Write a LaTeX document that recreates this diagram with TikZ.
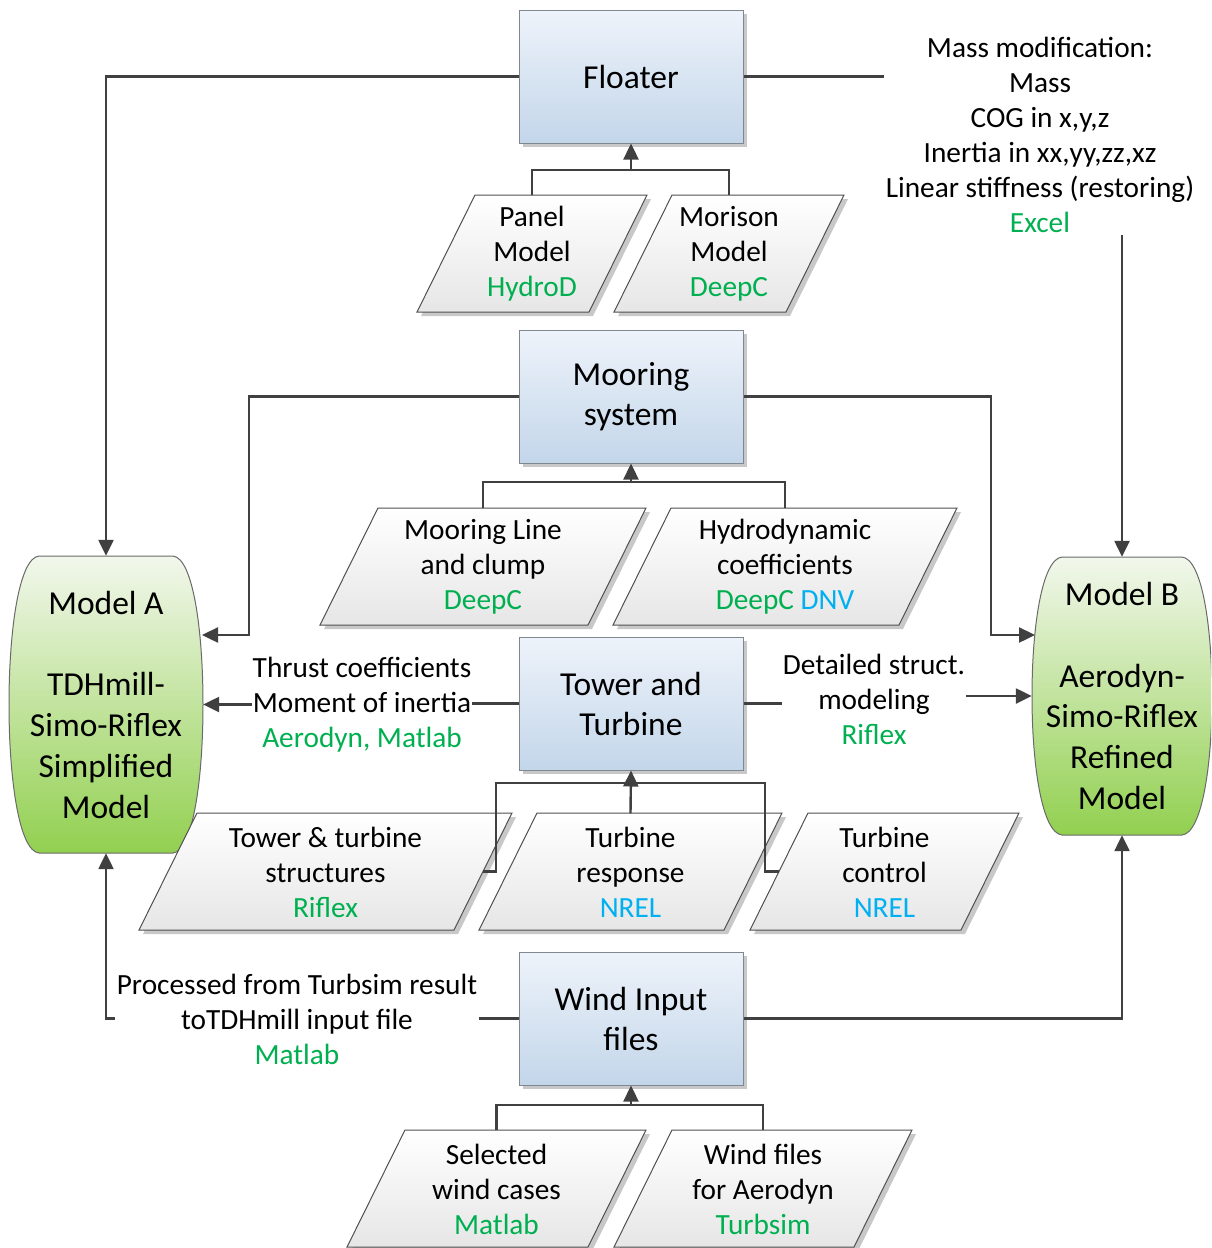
\documentclass[tikz,border=0pt]{standalone}
\usepackage{fontspec}
\setmainfont{Carlito}
\usetikzlibrary{arrows.meta,calc}
\definecolor{lineC}{HTML}{404040}
\definecolor{grn}{HTML}{00B050}
\definecolor{blu}{HTML}{00B0F0}
\definecolor{shadowC}{HTML}{C8C8C8}
\definecolor{boxTop}{HTML}{EEF3FA}
\definecolor{boxBot}{HTML}{C3D6EA}
\definecolor{boxBorder}{HTML}{7F8790}
\definecolor{paraBot}{HTML}{E6E6E6}
\definecolor{paraBorder}{HTML}{505050}
\definecolor{modTop}{HTML}{F2F7EC}
\definecolor{modBot}{HTML}{92D050}
\definecolor{modBorder}{HTML}{6A6A6A}
\tikzset{
  txt/.style={align=center, font=\fontsize{29.3}{35}\selectfont, inner sep=0pt, text=black},
  titletxt/.style={align=center, font=\fontsize{33.5}{40}\selectfont, text=black},
  modeltxt/.style={align=center, font=\fontsize{33.5}{40.8}\selectfont, text=black},
  conn/.style={draw=lineC, line width=2.4pt},
  arr/.style={conn, -{Triangle[length=16pt,width=15pt]}},
  procbox/.style={titletxt, draw=boxBorder, line width=1pt, top color=boxTop, bottom color=boxBot,
     minimum width=224, minimum height=133, inner sep=0pt},
}
\newcommand{\mybox}[4]{% name, cx, cy, text
  \fill[shadowC] ({#2-112+4},{#3-66.5+4}) rectangle ({#2+112+4},{#3+66.5+4});
  \node[procbox] (#1) at (#2,#3) {#4};
}
\newcommand{\mypara}[5]{% name, cx, cy, w, text
  \fill[shadowC] ({#2-#4/2+4},{#3+58.5+4}) -- ({#2-#4/2+58+4},{#3-58.5+4}) -- ({#2+#4/2+4},{#3-58.5+4}) -- ({#2+#4/2-58+4},{#3+58.5+4}) -- cycle;
  \path[draw=paraBorder, line width=1pt, top color=white, bottom color=paraBot] ({#2-#4/2},{#3+58.5}) -- ({#2-#4/2+58},{#3-58.5}) -- ({#2+#4/2},{#3-58.5}) -- ({#2+#4/2-58},{#3+58.5}) -- cycle;
  \node[txt, minimum width=#4, minimum height=117] (#1) at (#2,{#3+0.5}) {#5};
  \coordinate (#1-r) at ({#2+#4/2-29},#3);
  \coordinate (#1-l) at ({#2-#4/2+29},#3);
}
\newcommand{\mymodel}[6]{% name, cx, cy, w, h, text
  \path[draw=modBorder, line width=1pt, top color=modTop, bottom color=modBot]
    ({#2-#4/2+30},{#3-#5/2}) -- ({#2+#4/2-30},{#3-#5/2})
    .. controls ({#2+#4/2-10},{#3-#5/2+2}) and ({#2+#4/2},{#3-#5/4}) .. ({#2+#4/2},#3)
    .. controls ({#2+#4/2},{#3+#5/4}) and ({#2+#4/2-10},{#3+#5/2-2}) .. ({#2+#4/2-30},{#3+#5/2})
    -- ({#2-#4/2+30},{#3+#5/2})
    .. controls ({#2-#4/2+10},{#3+#5/2-2}) and ({#2-#4/2},{#3+#5/4}) .. ({#2-#4/2},#3)
    .. controls ({#2-#4/2},{#3-#5/4}) and ({#2-#4/2+10},{#3-#5/2+2}) .. cycle;
  \node[modeltxt, minimum width=#4, minimum height=#5, inner sep=0pt] (#1) at (#2,#3) {#6};
}
\begin{document}
\begin{tikzpicture}[x=1pt,y=-1pt]
\useasboundingbox (0,0) rectangle (1211,1248);
\begin{scope}
\clip (0,0) rectangle (1211,1248);
% models
\mymodel{modelA}{106}{704.5}{194}{297}{Model A\\\mbox{}\\TDHmill-\\Simo-Riflex\\Simplified\\Model}
\mymodel{modelB}{1122}{696}{180}{278}{Model B\\\mbox{}\\Aerodyn-\\Simo-Riflex\\Refined\\Model}
\end{scope}
% process boxes
\mybox{floater}{631}{76.5}{Floater}
\mybox{mooring}{631}{396.5}{Mooring\\system}
\mybox{tower}{631}{703.5}{Tower and\\Turbine}
\mybox{wind}{631}{1018.5}{Wind Input\\files}
% parallelograms
\mypara{panel}{532}{253.5}{230}{Panel\\Model\\\textcolor{grn}{HydroD}}
\mypara{morison}{729}{253.5}{230}{Morison\\Model\\\textcolor{grn}{DeepC}}
\mypara{mline}{483}{566.5}{326}{Mooring Line\\and clump\\\textcolor{grn}{DeepC}}
\mypara{hydro}{785}{566.5}{344}{Hydrodynamic\\coefficients\\\textcolor{grn}{DeepC} \textcolor{blu}{DNV}}
\mypara{struct}{325.5}{871.5}{373}{Tower \& turbine\\structures\\\textcolor{grn}{Riflex}}
\mypara{response}{630.5}{871.5}{303}{Turbine\\response\\\textcolor{blu}{NREL}}
\mypara{control}{884.5}{871.5}{269}{Turbine\\control\\\textcolor{blu}{NREL}}
\mypara{selected}{496.5}{1188.5}{299}{Selected\\wind cases\\\textcolor{grn}{Matlab}}
\mypara{windfiles}{763}{1188.5}{298}{Wind files\\for Aerodyn\\\textcolor{grn}{Turbsim}}
% free labels
\node[txt, inner sep=2pt] (mass) at (1040,135) {Mass modification:\\Mass\\COG in x,y,z\\Inertia in xx,yy,zz,xz\\Linear stiffness (restoring)\\\textcolor{grn}{Excel}};
\node[txt, inner sep=1pt] (thrust) at (362,704.5) {Thrust coefficients\\Moment of inertia\\\textcolor{grn}{Aerodyn, Matlab}};
\node[txt, inner sep=1pt] (detailed) at (874,699.5) {Detailed struct.\\modeling\\\textcolor{grn}{Riflex}};
\node[txt, inner sep=2pt] (processed) at (297,1019.5) {Processed from Turbsim result\\toTDHmill input file\\\textcolor{grn}{Matlab}};
% junction coordinates
\coordinate (j1) at (631,170);
\coordinate (j2) at (631,482);
\coordinate (j3) at (631,783);
\coordinate (j4) at (631,1105);
\coordinate (mA1) at (202,635);
\coordinate (mB1) at (1035,635);
% floater
\draw[arr] (floater.west) -| (modelA.north);
\draw[conn] (floater.east) -- (mass.west |- floater.east);
\draw[arr] (mass.south -| modelB.north) -- (modelB.north);
\draw[conn] (panel.north) |- (j1) -| (morison.north);
\draw[arr] (j1) -- (floater.south);
% mooring
\draw[arr] (mooring.west) -| (249,635) -- (mA1);
\draw[arr] (mooring.east) -| (991,635) -- (mB1);
\draw[conn] (mline.north) |- (j2) -| (hydro.north);
\draw[arr] (j2) -- (mooring.south);
% tower
\draw[conn] (tower.west) -- (thrust.east |- tower.west);
\draw[arr] (thrust.west |- modelA.east) -- (modelA.east);
\draw[conn] (tower.east) -- (detailed.west |- tower.east);
\draw[arr] (detailed.east |- modelB.west) -- (modelB.west);
\draw[conn] (struct-r) -- (496,871.5) |- (j3);
\draw[conn] (control-l) -- (765,871.5) |- (j3);
\draw[arr] (response.north) -- (tower.south);
% wind
\draw[conn] (wind.west) -- (processed.east |- wind.west);
\draw[arr] (processed.west |- wind.west) -| (modelA.south);
\draw[arr] (wind.east) -| (modelB.south);
\draw[conn] (selected.north) |- (j4) -| (windfiles.north);
\draw[arr] (j4) -- (wind.south);
\end{tikzpicture}
\end{document}
